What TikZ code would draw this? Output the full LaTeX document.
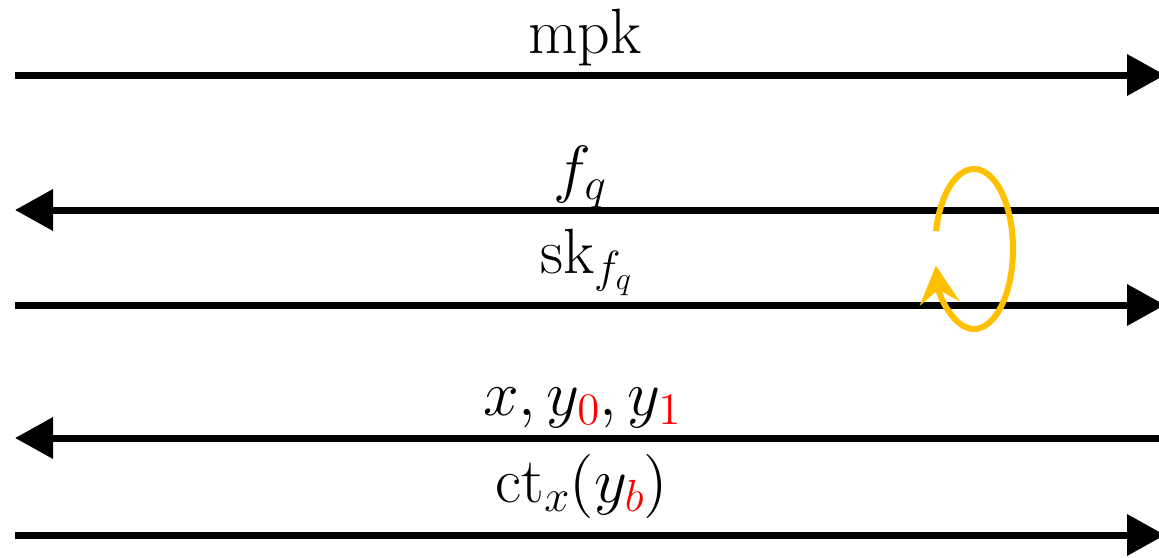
\documentclass[tikz,border=0pt]{standalone}
\usetikzlibrary{arrows.meta}
\DeclareFontShape{OML}{cmm}{m}{it}{<->cmmi12}{\skewchar\font'177}
\DeclareFontShape{OMS}{cmsy}{m}{n}{<->cmsy10}{\skewchar\font'60}
\DeclareFontShape{OT1}{cmr}{m}{n}{<->cmr12}{}
\DeclareMathSizes{64}{64}{45}{32}
\definecolor{loopgold}{HTML}{FFC000}
\begin{document}
\begin{tikzpicture}[x=1pt,y=-1pt,
  msg/.style={line width=7pt,-{Triangle[length=38pt,width=40pt]}},
  every node/.style={font=\fontsize{64}{72}\selectfont,inner sep=0pt,anchor=base}]
\useasboundingbox (0,0) rectangle (1159,557);
\coordinate (L1) at (15,75);
\coordinate (R1) at (1165,75);
\coordinate (L2) at (15,210);
\coordinate (R2) at (1165,210);
\coordinate (L3) at (15,305);
\coordinate (R3) at (1165,305);
\coordinate (L4) at (15,438);
\coordinate (R4) at (1165,438);
\coordinate (L5) at (15,535);
\coordinate (R5) at (1165,535);
\coordinate (C) at (974,249);
\draw[msg] (L1) -- (R1);
\draw[msg] (R2) -- (L2);
\draw[msg] (L3) -- (R3);
\draw[msg] (R4) -- (L4);
\draw[msg] (L5) -- (R5);
\node (mpk) at (585,53) {mpk};
\node (fq) at (580,190) {$f_q$};
\node (skfq) at (586,273) {sk$_{f_q}$};
\node (xyy) at (582,415) {$x, y_{\color{red}0}, y_{\color{red}1}$};
\node (ctx) at (582,502) {ct$_x(y_{\color{red}b})$};
\draw[loopgold,line width=6pt,-{Stealth[length=38pt,width=40pt,inset=14pt]}]
  ([shift={(193:39 and 80)}]C) arc[start angle=193,end angle=528,x radius=39,y radius=80];
\end{tikzpicture}
\end{document}
